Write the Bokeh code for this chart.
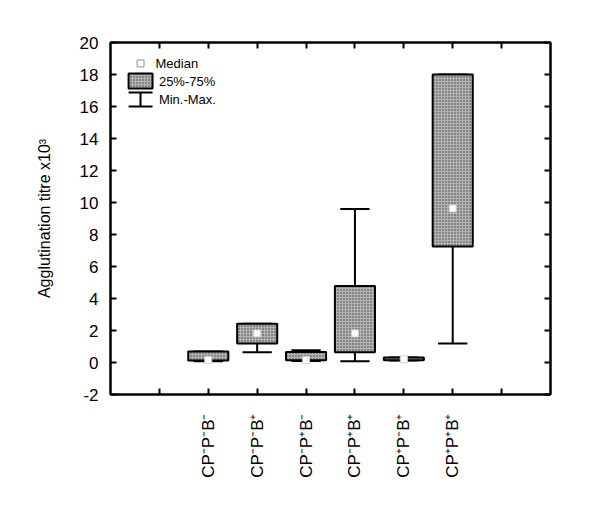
import numpy as np
from bokeh.plotting import figure
from bokeh.models import FixedTicker, LinearAxis, Range1d, ColumnDataSource
from bokeh.core.properties import value
from bokeh.embed import file_html
from bokeh.resources import INLINE

# ---- data ----
categories = ["CP\u207bP\u207bB\u207b", "CP\u207bP\u207bB\u207a", "CP\u207bP\u207aB\u207b",
              "CP\u207bP\u207aB\u207a", "CP\u207aP\u207bB\u207a", "CP\u207aP\u207aB\u207a"]
positions = [2, 3, 4, 5, 6, 7]
medians = [0.15, 1.82, 0.15, 1.82, 0.2, 9.63]
q1 = [0.12, 1.18, 0.14, 0.64, 0.14, 7.25]
q3 = [0.68, 2.42, 0.66, 4.78, 0.31, 18.0]
mins = [0.08, 0.64, 0.1, 0.08, 0.12, 1.18]
maxs = [0.68, 2.42, 0.76, 9.6, 0.31, 18.0]
y_ticks = list(range(-2, 21, 2))
x_ticks = [1, 2, 3, 4, 5, 6, 7, 8]
legend_labels = ["Median", "25%-75%", "Min.-Max."]

FONT = "Liberation Sans"
BOX_W = 0.82
CAP_W = 0.6

p = figure(width=592, height=508, output_backend="svg", toolbar_location=None,
           x_range=Range1d(0, 9), y_range=Range1d(-2, 20),
           min_border_left=110, min_border_top=42, min_border_right=42, min_border_bottom=114)
p.xgrid.visible = False
p.ygrid.visible = False
p.outline_line_color = "black"
p.outline_line_width = 2
p.background_fill_color = "white"
p.border_fill_color = "white"

def style_axis(ax):
    ax.axis_line_color = "black"
    ax.axis_line_width = 2
    ax.major_tick_in = 6
    ax.major_tick_out = 0
    ax.major_tick_line_width = 2
    ax.minor_tick_line_color = None
    ax.major_label_text_font = FONT
    ax.major_label_text_font_size = "17px"
    ax.major_label_text_color = "black"

# y axes
yl = p.yaxis[0]
yl.ticker = FixedTicker(ticks=y_ticks)
style_axis(yl)
yl.major_label_overrides = {t: str(t) for t in y_ticks}
yl.major_label_standoff = 12
yl.axis_label = "Agglutination titre x10\u00b3"
yl.axis_label_text_font = FONT
yl.axis_label_text_font_size = "16px"
yl.axis_label_text_font_style = "normal"
yl.axis_label_text_color = "black"
yl.axis_label_standoff = 24

yr = LinearAxis(ticker=FixedTicker(ticks=y_ticks))
style_axis(yr)
yr.major_label_overrides = {t: "" for t in y_ticks}
p.add_layout(yr, "right")

# x axes
xb = p.xaxis[0]
xb.ticker = FixedTicker(ticks=x_ticks)
style_axis(xb)
overrides = {1: "", 8: ""}
for pos, c in zip(positions, categories):
    overrides[pos] = c
xb.major_label_overrides = overrides
xb.major_label_orientation = np.pi / 2
xb.major_label_standoff = 19

xt = LinearAxis(ticker=FixedTicker(ticks=x_ticks))
style_axis(xt)
xt.major_label_overrides = {t: "" for t in x_ticks}
p.add_layout(xt, "above")

# ---- boxes ----
xs = np.array(positions, dtype=float)
src = ColumnDataSource(dict(x=xs, q1=q1, q3=q3, mn=mins, mx=maxs, med=medians,
                            cl=xs - CAP_W / 2, cr=xs + CAP_W / 2))
p.segment(x0="x", y0="q3", x1="x", y1="mx", source=src, line_color="black", line_width=2)
p.segment(x0="x", y0="q1", x1="x", y1="mn", source=src, line_color="black", line_width=2)
p.segment(x0="cl", y0="mx", x1="cr", y1="mx", source=src, line_color="black", line_width=2)
p.segment(x0="cl", y0="mn", x1="cr", y1="mn", source=src, line_color="black", line_width=2)

BOX_STYLE = dict(fill_color="#b4b4b4", hatch_pattern="dot", hatch_color="#3c3c3c",
                 hatch_scale=3, hatch_weight=1, line_color="black", line_width=2)
p.vbar(x="x", width=BOX_W, top="q3", bottom="q1", source=src, **BOX_STYLE)
p.scatter(x="x", y="med", source=src, marker="square", size=7,
          fill_color="white", line_color="#d0d0d0", line_width=1)

# ---- legend (layout in data space) ----
LX0, LX1, LXC, LTX = 0.37, 0.86, 0.614, 0.99
p.scatter(x=[LXC], y=[18.69], marker="square", size=7, fill_color="white",
          line_color="#909090", line_width=1)
p.quad(left=[LX0], right=[LX1], top=[18.06], bottom=[17.12], **BOX_STYLE)
p.segment(x0=[LX0, LX0, LXC], y0=[16.88, 16.0, 16.88], x1=[LX1, LX1, LXC], y1=[16.88, 16.0, 16.0],
          line_color="black", line_width=2)
p.text(x=[0.92, LTX, LTX], y=[18.69, 17.56, 16.44], text=legend_labels,
       text_font=value(FONT), text_font_size="13px", text_baseline="middle",
       text_align="left", text_color="black")

open("out.html", "w").write(file_html(p, INLINE))
